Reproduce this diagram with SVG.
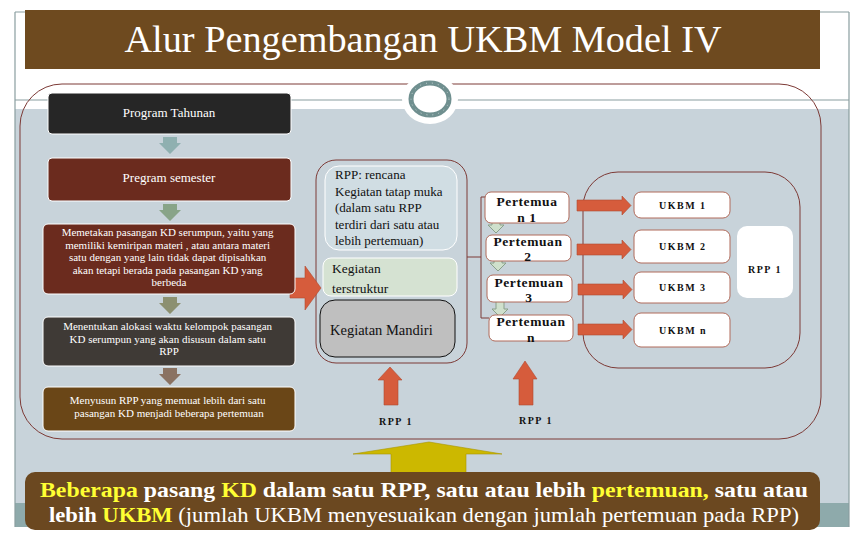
<svg xmlns="http://www.w3.org/2000/svg" width="864" height="540" viewBox="0 0 864 540">
<style>
.ser{font-family:"Liberation Serif","DejaVu Serif",serif}
.lbox{stroke:#ffffff;stroke-width:1}
.lt{fill:#ffffff;font-family:"Liberation Serif","DejaVu Serif",serif;text-anchor:middle}
.pbox{fill:#ffffff;stroke:#b06a5a;stroke-width:1}
.pt{font-family:"Liberation Serif","DejaVu Serif",serif;font-weight:bold;font-size:13.5px;text-anchor:middle;letter-spacing:0.6px;fill:#111}
.ut{font-family:"Liberation Serif","DejaVu Serif",serif;font-weight:bold;font-size:10px;letter-spacing:1.5px;fill:#111}
.red{fill:#d65c3c;stroke:#b04a30;stroke-width:0.6}
.sm{fill:#cfe0cc;stroke:#8aa08a;stroke-width:1}
.ln{fill:none;stroke:#7d3a36;stroke-width:1}
.y{fill:#ffff33}
</style>
<rect width="864" height="540" fill="#ffffff"/>
<!-- slide background -->
<rect x="15" y="109" width="834" height="394" fill="#c8d3da"/>
<rect x="15" y="503" width="834" height="24" fill="#8eaaab"/>
<path d="M15 12 V527 M849 12 V527 M15 100 H849 M15 12 H849" fill="none" stroke="#8a9ea0" stroke-width="1.2"/>
<!-- title -->
<g id="title">
<rect x="25" y="10" width="795" height="59" fill="#6e4a1f"/>
<text x="423" y="52" class="ser" font-size="37" fill="#ffffff" text-anchor="middle" textLength="597" lengthAdjust="spacingAndGlyphs">Alur Pengembangan UKBM Model IV</text>
</g>
<!-- outer rounded frames -->
<g id="connectors">
<rect x="20" y="84" width="801" height="355" rx="42" class="ln"/>
<rect x="583" y="172" width="217" height="196" rx="35" class="ln"/>
<rect x="316" y="160" width="151" height="203" rx="20" class="ln"/>
<path d="M467 257 H481 M481 197 V318 M481 197 H486 M481 318 H489" class="ln"/>
<!-- left column arrows -->
<polygon points="163,137 177,137 177,143 181,143 170,154 159,143 163,143" fill="#8fb0b0"/>
<polygon points="163,204 177,204 177,210 181,210 170,221 159,210 163,210" fill="#88a488"/>
<polygon points="163,297 177,297 177,303 181,303 170,314 159,303 163,303" fill="#8c9070"/>
<polygon points="163,368 177,368 177,374 181,374 170,385 159,374 163,374" fill="#8a7262"/>
<!-- big red arrow -->
<polygon class="red" points="290,278 305,278 305,266 321,288 305,310 305,298 290,298"/>
<!-- small pertemuan arrows -->
<polygon class="sm" points="492,215 500,215 500,225 504,225 496,233 488,225 492,225"/>
<polygon class="sm" points="494,253 502,253 502,263 506,263 498,271 490,263 494,263"/>
<polygon class="sm" points="496,299 504,299 504,309 508,309 500,317 492,309 496,309"/>
<!-- red right arrows -->
<polygon class="red" points="577,200 622,200 622,196 631,205.5 622,215 622,211 577,211"/>
<polygon class="red" points="577,244 622,244 622,240 631,249.5 622,259 622,255 577,255"/>
<polygon class="red" points="578,284 623,284 623,280 632,289.5 623,299 623,295 578,295"/>
<polygon class="red" points="578,324 623,324 623,320 632,329.5 623,339 623,335 578,335"/>
<!-- red up arrows -->
<polygon class="red" points="384,405 398,405 398,380 402,380 390,367 378,380 384,380"/>
<polygon class="red" points="519,405 533,405 533,379 537,379 525,361 513,379 519,379"/>
<!-- yellow arrow -->
<polygon points="391,475 466,475 466,454 502,454 429,442 353,454 391,454" fill="#ccb800" stroke="#a89600" stroke-width="0.6"/>
</g>
<!-- circle ornament -->
<g id="ornament">
<ellipse cx="430" cy="99" rx="28" ry="25" fill="#ffffff"/>
<ellipse cx="430" cy="99" rx="19" ry="16" fill="#ffffff" stroke="#6f8f8f" stroke-width="5"/>
<ellipse cx="430" cy="99" rx="19" ry="16" fill="none" stroke="#d8e4e4" stroke-width="0.8" stroke-dasharray="1 5"/>
</g>
<!-- left column -->
<g id="program-tahunan">
<rect x="48" y="93" width="243" height="41" rx="4" fill="#262626" class="lbox"/>
<text x="169" y="117" class="lt" font-size="13">Program Tahunan</text>
</g>
<g id="program-semester">
<rect x="48" y="158" width="243" height="43" rx="4" fill="#6b2b1e" class="lbox"/>
<text x="169" y="182" class="lt" font-size="13">Pregram semester</text>
</g>
<g id="memetakan">
<rect x="43" y="224" width="252" height="70" rx="5" fill="#6b2b1e" class="lbox"/>
<text class="lt" font-size="11">
<tspan x="169" y="236">Memetakan pasangan KD serumpun, yaitu yang</tspan>
<tspan x="169" y="248.5">memiliki kemiripan materi , atau antara materi</tspan>
<tspan x="169" y="261">satu dengan yang lain tidak dapat dipisahkan</tspan>
<tspan x="169" y="273.5">akan tetapi berada pada pasangan KD  yang</tspan>
<tspan x="169" y="286">berbeda</tspan>
</text>
</g>
<g id="menentukan">
<rect x="43" y="317" width="252" height="49" rx="5" fill="#3f3a36" class="lbox"/>
<text class="lt" font-size="11">
<tspan x="169" y="330">Menentukan alokasi waktu kelompok pasangan</tspan>
<tspan x="169" y="342.5">KD  serumpun yang akan  disusun dalam satu</tspan>
<tspan x="169" y="355">RPP</tspan>
</text>
</g>
<g id="menyusun">
<rect x="43" y="387" width="252" height="44" rx="5" fill="#6a4617" class="lbox"/>
<text class="lt" font-size="11">
<tspan x="169" y="404">Menyusun RPP yang memuat lebih dari satu</tspan>
<tspan x="169" y="416.5">pasangan  KD menjadi  beberapa pertemuan</tspan>
</text>
</g>
<!-- middle column -->
<g id="rpp-rencana">
<rect x="325" y="166" width="132" height="84" rx="14" fill="#d0dde3" stroke="#ffffff" stroke-width="1"/>
<text class="ser" font-size="13" fill="#111">
<tspan x="335" y="179">RPP: rencana</tspan>
<tspan x="335" y="195.5">Kegiatan tatap muka</tspan>
<tspan x="335" y="212">(dalam satu RPP</tspan>
<tspan x="335" y="228.5">terdiri dari satu atau</tspan>
<tspan x="335" y="245">lebih pertemuan)</tspan>
</text>
</g>
<g id="kegiatan-terstruktur">
<rect x="323" y="258" width="134" height="38" rx="8" fill="#d5e2d2" stroke="#ffffff" stroke-width="1"/>
<text class="ser" font-size="13.5" fill="#111">
<tspan x="332" y="273">Kegiatan</tspan>
<tspan x="332" y="293">terstruktur</tspan>
</text>
</g>
<g id="kegiatan-mandiri">
<rect x="320" y="300" width="135" height="57" rx="15" fill="#bfbfbf" stroke="#111" stroke-width="1"/>
<text x="330" y="335" class="ser" font-size="14.5" fill="#111">Kegiatan Mandiri</text>
</g>
<!-- pertemuan -->
<g id="pertemuan-1">
<rect x="485" y="192" width="84" height="31" rx="6" class="pbox"/>
<text class="pt"><tspan x="527" y="206">Pertemua</tspan><tspan x="527" y="222">n 1</tspan></text>
</g>
<g id="pertemuan-2">
<rect x="486" y="235" width="85" height="26" rx="6" class="pbox"/>
<text class="pt"><tspan x="528" y="246">Pertemuan</tspan><tspan x="528" y="261">2</tspan></text>
</g>
<g id="pertemuan-3">
<rect x="487" y="275" width="85" height="27" rx="6" class="pbox"/>
<text class="pt"><tspan x="529" y="287">Pertemuan</tspan><tspan x="529" y="302">3</tspan></text>
</g>
<g id="pertemuan-n">
<rect x="489" y="315" width="84" height="26" rx="6" class="pbox"/>
<text class="pt"><tspan x="531" y="326">Pertemuan</tspan><tspan x="531" y="342">n</tspan></text>
</g>
<!-- UKBM -->
<g id="ukbm-1">
<rect x="634" y="192" width="96" height="26" rx="7" class="pbox"/>
<text x="659" y="209" class="ut">UKBM 1</text>
</g>
<g id="ukbm-2">
<rect x="634" y="230" width="96" height="33" rx="7" class="pbox"/>
<text x="659" y="250" class="ut">UKBM 2</text>
</g>
<g id="ukbm-3">
<rect x="634" y="272" width="96" height="31" rx="7" class="pbox"/>
<text x="659" y="291" class="ut">UKBM 3</text>
</g>
<g id="ukbm-n">
<rect x="634" y="313" width="96" height="34" rx="7" class="pbox"/>
<text x="659" y="334" class="ut">UKBM n</text>
</g>
<g id="rpp-1-box">
<rect x="737" y="226" width="56" height="72" rx="10" fill="#ffffff"/>
<text x="748" y="273" class="ut">RPP 1</text>
</g>
<g id="rpp-1-labels">
<text x="379" y="425" class="ut">RPP 1</text>
<text x="519" y="424" class="ut">RPP 1</text>
</g>
<!-- bottom banner -->
<g id="banner">
<rect x="25" y="472" width="795" height="58" rx="10" fill="#6b4820"/>
<text x="424" y="497" class="ser" font-size="21" font-weight="bold" fill="#ffffff" text-anchor="middle" textLength="768" lengthAdjust="spacingAndGlyphs"><tspan class="y">Beberapa</tspan> pasang <tspan class="y">KD</tspan> dalam satu RPP, satu atau lebih <tspan class="y">pertemuan,</tspan> satu atau</text>
<text x="424" y="522" class="ser" font-size="21" fill="#ffffff" text-anchor="middle" textLength="750" lengthAdjust="spacingAndGlyphs"><tspan font-weight="bold">lebih </tspan><tspan class="y" font-weight="bold">UKBM</tspan> (jumlah UKBM menyesuaikan dengan jumlah pertemuan pada RPP)</text>
</g>
</svg>
